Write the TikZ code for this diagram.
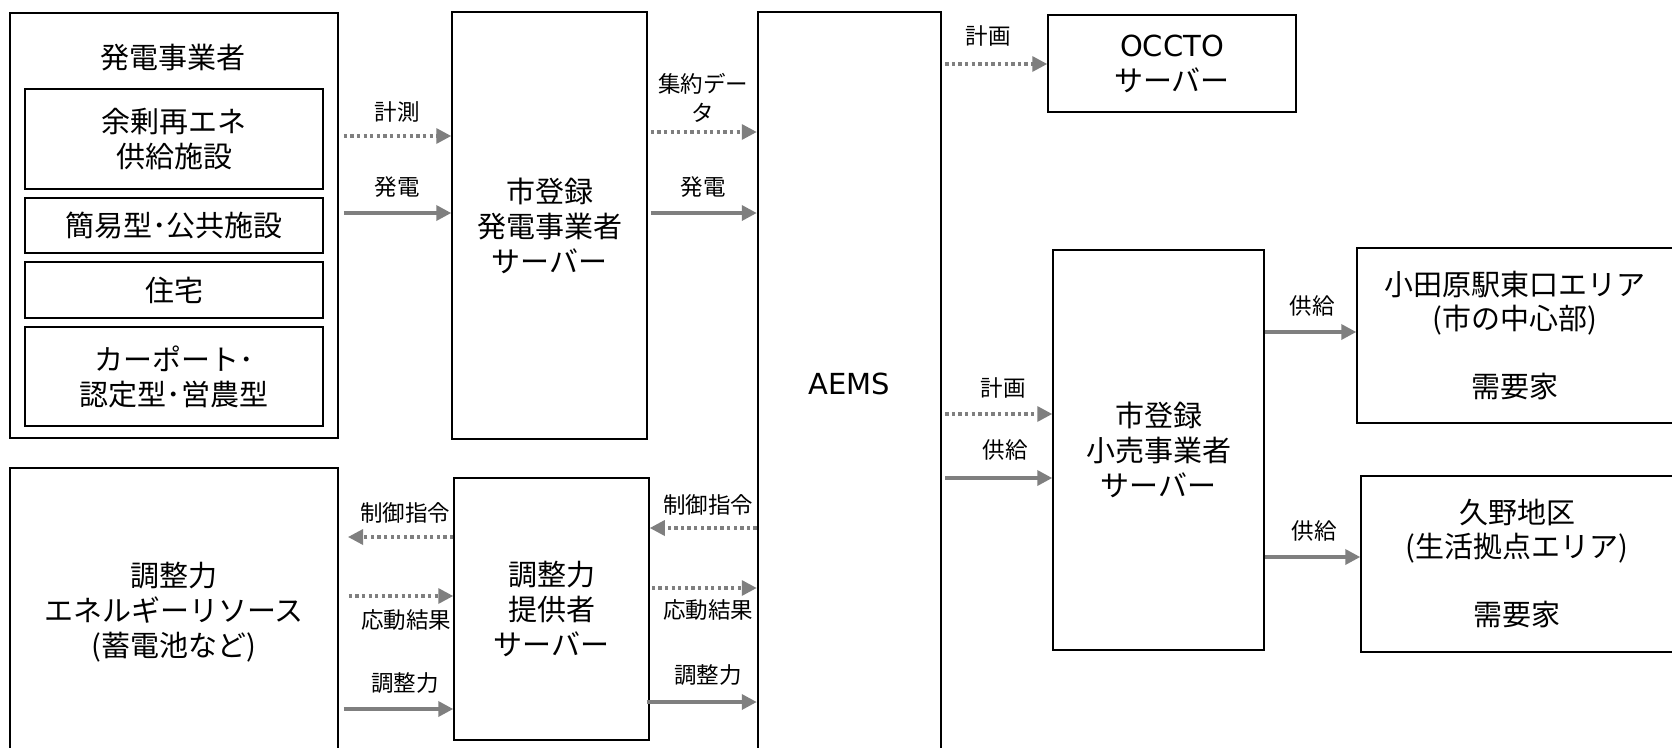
\documentclass[tikz,border=0pt]{standalone}
\usepackage{fontspec}
\newfontfamily\jp{Noto Sans CJK JP}
\newfontfamily\lat{DejaVu Sans}
\usetikzlibrary{arrows.meta}
\definecolor{arrgray}{HTML}{7F7F7F}
\tikzset{
  box/.style={draw=black, line width=1.5pt, rectangle, inner sep=0pt, align=center,
    font=\jp\fontsize{29}{35}\selectfont},
  boxtext/.style={inner sep=0pt, align=center, font=\jp\fontsize{29}{35}\selectfont},
  lab/.style={inner sep=0pt, align=center, font=\jp\fontsize{22.5}{29}\selectfont},
  arr/.style={draw=arrgray, line width=3.5pt, -{Triangle[length=15pt,width=15pt]}},
  dotarr/.style={draw=arrgray, line width=3.3pt, dash pattern=on 3.3pt off 3.3pt,
    -{Triangle[length=15pt,width=15pt]}},
}
\begin{document}
\begin{tikzpicture}[x=1pt,y=-1pt]
\useasboundingbox (0,0) rectangle (1672,747);
\fill[white] (0,0) rectangle (1672,747);
\clip (0,0) rectangle (1672,747);

% left generator block
\node[box, minimum width=328pt, minimum height=425pt] (A) at (174,225.5) {};
\node[boxtext] (Atitle) at (173,58) {発電事業者};
\node[box, minimum width=298pt, minimum height=100pt] (a1) at (174,139) {余剰再エネ\\供給施設};
\node[box, minimum width=298pt, minimum height=55pt] (a2) at (174,225.5) {簡易型･公共施設};
\node[box, minimum width=298pt, minimum height=56pt] (a3) at (174,290) {住宅};
\node[box, minimum width=298pt, minimum height=99pt] (a4) at (174,376.5) {カーポート･\\認定型･営農型};

% servers
\node[box, minimum width=195pt, minimum height=427pt] (B) at (549.5,225.5) {市登録\\発電事業者\\サーバー};
\node[box, line width=2.5pt, minimum width=183pt, minimum height=744pt] (C) at (849.5,384) {{\lat AEMS}};
\node[box, minimum width=248pt, minimum height=97pt] (D) at (1172,63.5) {{\lat OCCTO}\\サーバー};
\node[box, minimum width=211pt, minimum height=400pt] (E) at (1158.5,450) {市登録\\小売事業者\\サーバー};
\node[box, minimum width=316pt, minimum height=175pt, font=\jp\fontsize{29}{34}\selectfont] (F) at (1515,335.5) {小田原駅東口エリア\\(市の中心部)\\[34pt]需要家};
\node[box, minimum width=312pt, minimum height=176pt, font=\jp\fontsize{29}{34}\selectfont] (G) at (1517,564) {久野地区\\(生活拠点エリア)\\[34pt]需要家};
\node[box, minimum width=328pt, minimum height=288pt] (H) at (174,612) {調整力\\エネルギーリソース\\(蓄電池など)};
\node[box, minimum width=195pt, minimum height=262pt] (I) at (551.5,609) {調整力\\提供者\\サーバー};

% A -> B
\draw[dotarr, shorten <=5pt] (A.east |- 0,136) -- (B.west |- 0,136);
\node[lab] (l1) at (397,112) {計測};
\draw[arr, shorten <=5pt] (A.east |- 0,213) -- (B.west |- 0,213);
\node[lab] (l2) at (397,187) {発電};

% B -> C
\draw[dotarr, shorten <=3pt] (B.east |- 0,132) -- (C.west |- 0,132);
\node[lab] (l3) at (703,97.5) {集約デー\\タ};
\draw[arr, shorten <=3pt] (B.east |- 0,213) -- (C.west |- 0,213);
\node[lab] (l4) at (703,187) {発電};

% C -> D, E
\draw[dotarr, shorten <=3pt] (C.east |- 0,64) -- (D.west |- 0,64);
\node[lab] (l5) at (988,36) {計画};
\draw[dotarr, shorten <=3pt] (C.east |- 0,414) -- (E.west |- 0,414);
\node[lab] (l6) at (1003,388) {計画};
\draw[arr, shorten <=3pt] (C.east |- 0,478) -- (E.west |- 0,478);
\node[lab] (l7) at (1005,450) {供給};

% E -> F, G
\draw[arr] (E.east |- 0,332) -- (F.west |- 0,332);
\node[lab] (l8) at (1312,306) {供給};
\draw[arr] (E.east |- 0,557) -- (G.west |- 0,557);
\node[lab] (l9) at (1314,531) {供給};

% H <-> I
\draw[dotarr] (I.west |- 0,537) -- (348,537) coordinate (hI1);
\node[lab] (l10) at (405,513) {制御指令};
\draw[dotarr, shorten <=10pt] (H.east |- 0,596) -- (I.west |- 0,596);
\node[lab] (l11) at (406,620) {応動結果};
\draw[arr, shorten <=5pt] (H.east |- 0,709) -- (I.west |- 0,709);
\node[lab] (l12) at (405,683) {調整力};

% I <-> C
\draw[dotarr] (C.west |- 0,528) -- (I.east |- 0,528);
\node[lab] (l13) at (708,505) {制御指令};
\draw[dotarr, shorten <=2pt] (I.east |- 0,588) -- (C.west |- 0,588);
\node[lab] (l14) at (708,610) {応動結果};
\draw[arr, shorten <=-3pt] (I.east |- 0,702) -- (C.west |- 0,702);
\node[lab] (l15) at (708,675) {調整力};
\end{tikzpicture}
\end{document}
